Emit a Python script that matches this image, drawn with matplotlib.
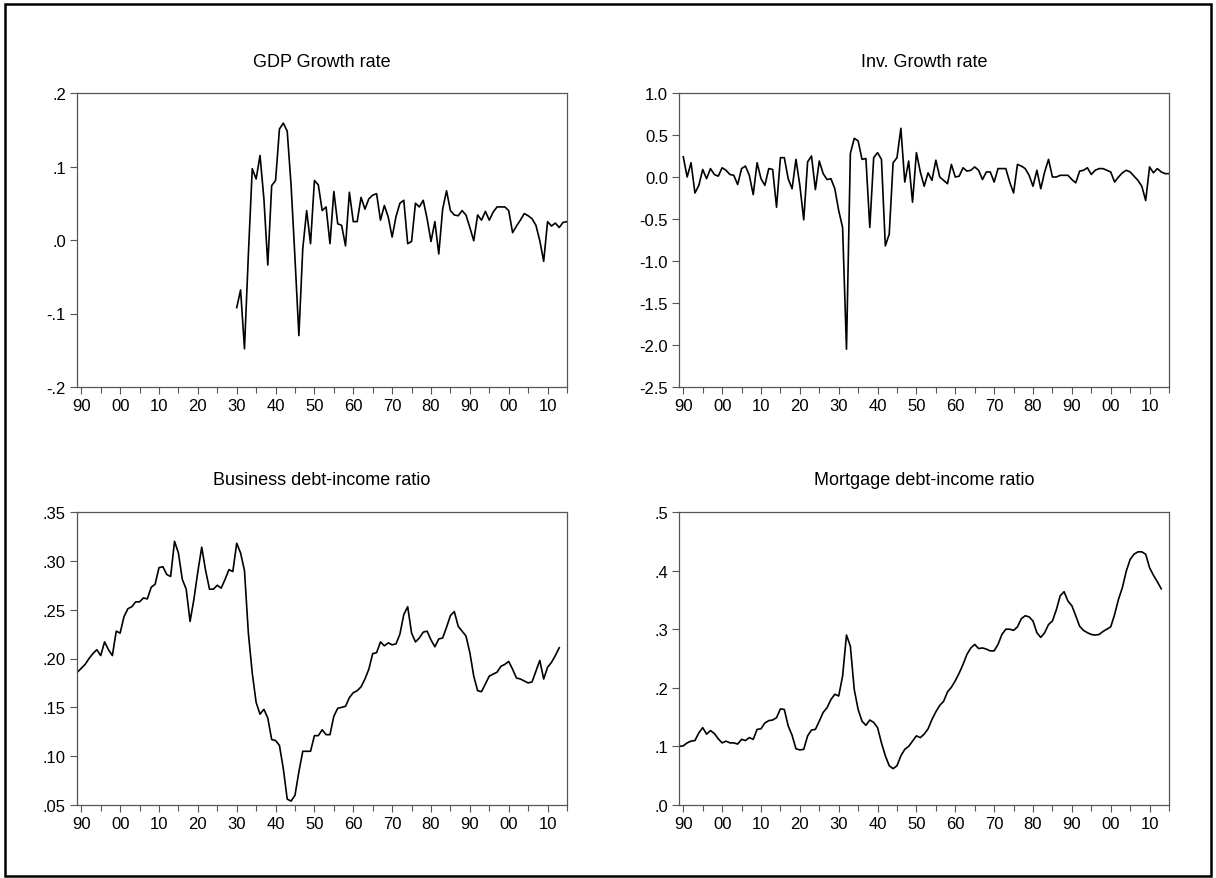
import numpy as np
import matplotlib
matplotlib.use("Agg")
import matplotlib.pyplot as plt
from matplotlib.ticker import FixedLocator, MultipleLocator, FuncFormatter
from matplotlib.patches import Rectangle

plt.rcParams['font.family'] = ['Liberation Sans', 'DejaVu Sans']

# GDP growth rate, 1930-2015
gdp_years = np.arange(1930, 2016)
gdp = [-0.092, -0.068, -0.148, -0.02, 0.097, 0.083, 0.115, 0.056, -0.034, 0.074,
       0.081, 0.151, 0.159, 0.148, 0.074, -0.025, -0.13, -0.012, 0.04, -0.005,
       0.081, 0.075, 0.04, 0.045, -0.005, 0.066, 0.022, 0.02, -0.008, 0.065,
       0.025, 0.025, 0.058, 0.042, 0.056, 0.061, 0.063, 0.027, 0.047, 0.031,
       0.004, 0.032, 0.05, 0.054, -0.005, -0.002, 0.05, 0.045, 0.054, 0.029,
       -0.002, 0.025, -0.019, 0.042, 0.067, 0.04, 0.034, 0.033, 0.04, 0.034,
       0.017, -0.001, 0.034, 0.027, 0.039, 0.027, 0.038, 0.045, 0.045, 0.045,
       0.04, 0.01, 0.019, 0.027, 0.036, 0.033, 0.029, 0.02, -0.001, -0.029,
       0.025, 0.019, 0.023, 0.017, 0.024, 0.025]

# Investment growth rate, 1890-2015
inv_years = np.arange(1890, 2016)
inv = [0.24, 0.0, 0.17, -0.19, -0.1, 0.09, -0.02, 0.1, 0.03, 0.01,
       0.11, 0.08, 0.03, 0.02, -0.09, 0.1, 0.13, 0.02, -0.21, 0.17,
       -0.02, -0.1, 0.1, 0.09, -0.36, 0.23, 0.23, -0.02, -0.14, 0.21,
       -0.1, -0.51, 0.18, 0.25, -0.15, 0.19, 0.04, -0.03, -0.02, -0.14,
       -0.4, -0.6, -2.05, 0.28, 0.46, 0.43, 0.21, 0.22, -0.6, 0.23,
       0.29, 0.21, -0.82, -0.68, 0.17, 0.23, 0.58, -0.06, 0.19, -0.3,
       0.29, 0.06, -0.11, 0.05, -0.04, 0.2, 0.0, -0.04, -0.08, 0.15,
       0.0, 0.01, 0.11, 0.07, 0.08, 0.12, 0.08, -0.03, 0.06, 0.06,
       -0.06, 0.1, 0.1, 0.1, -0.06, -0.19, 0.15, 0.13, 0.1, 0.02,
       -0.11, 0.08, -0.14, 0.06, 0.21, 0.0, 0.0, 0.02, 0.02, 0.02,
       -0.03, -0.07, 0.07, 0.08, 0.11, 0.03, 0.08, 0.1, 0.1, 0.08,
       0.06, -0.06, 0.0, 0.05, 0.08, 0.06, 0.01, -0.04, -0.11, -0.28,
       0.12, 0.05, 0.1, 0.06, 0.04, 0.04]

# Business debt-income ratio, 1889-2013
bus_years = np.arange(1889, 2014)
bus = [0.186, 0.19, 0.194, 0.2, 0.205, 0.209, 0.203, 0.217, 0.209, 0.203,
       0.228, 0.226, 0.243, 0.251, 0.253, 0.258, 0.258, 0.262, 0.261, 0.273,
       0.276, 0.293, 0.294, 0.286, 0.284, 0.32, 0.308, 0.281, 0.271, 0.238,
       0.261, 0.289, 0.314, 0.29, 0.271, 0.271, 0.275, 0.272, 0.281, 0.291,
       0.289, 0.318, 0.308, 0.29, 0.226, 0.185, 0.155, 0.143, 0.148, 0.139,
       0.117, 0.116, 0.111, 0.087, 0.056, 0.054, 0.06, 0.084, 0.105, 0.105,
       0.105, 0.121, 0.121, 0.127, 0.122, 0.122, 0.141, 0.149, 0.15, 0.151,
       0.16, 0.165, 0.167, 0.171, 0.179, 0.189, 0.205, 0.206, 0.217, 0.213,
       0.216, 0.214, 0.215, 0.225, 0.245, 0.253, 0.226, 0.217, 0.221, 0.227,
       0.228, 0.219, 0.212, 0.22, 0.221, 0.232, 0.244, 0.248, 0.233, 0.228,
       0.223, 0.206, 0.182, 0.167, 0.166, 0.174, 0.182, 0.184, 0.186, 0.192,
       0.194, 0.197, 0.189, 0.18, 0.179, 0.177, 0.175, 0.176, 0.187, 0.198,
       0.179, 0.191, 0.196, 0.203, 0.211]

# Mortgage debt-income ratio, 1889-2013
mort_years = np.arange(1889, 2014)
mort = [0.1, 0.101, 0.106, 0.109, 0.11, 0.123, 0.132, 0.121, 0.127, 0.122,
        0.113, 0.106, 0.109, 0.106, 0.106, 0.104, 0.112, 0.11, 0.115, 0.112,
        0.129, 0.13, 0.14, 0.144, 0.145, 0.149, 0.164, 0.163, 0.135, 0.119,
        0.096, 0.094, 0.095, 0.118, 0.128, 0.129, 0.143, 0.158, 0.166, 0.18,
        0.189, 0.186, 0.22, 0.29, 0.271, 0.197, 0.163, 0.143, 0.136, 0.145,
        0.141, 0.132, 0.106, 0.084, 0.067, 0.062, 0.067, 0.084, 0.095, 0.1,
        0.109, 0.118, 0.115, 0.121, 0.13, 0.146, 0.159, 0.17, 0.177, 0.193,
        0.201, 0.212, 0.225, 0.24, 0.257, 0.268, 0.274, 0.267, 0.268, 0.266,
        0.263, 0.263, 0.274, 0.291, 0.3, 0.3, 0.298, 0.304, 0.318, 0.323,
        0.321, 0.314, 0.294, 0.286, 0.294, 0.308, 0.314, 0.333, 0.357, 0.364,
        0.348, 0.34, 0.323, 0.305, 0.298, 0.294, 0.291, 0.29, 0.291, 0.296,
        0.3, 0.304, 0.325, 0.351, 0.371, 0.399, 0.419, 0.428, 0.432, 0.432,
        0.428, 0.405, 0.392, 0.381, 0.369]

panels = [
    ("GDP Growth rate", gdp_years, gdp, [-0.2, -0.1, 0.0, 0.1, 0.2],
     ['-.2', '-.1', '.0', '.1', '.2']),
    ("Inv. Growth rate", inv_years, inv, [-2.5, -2.0, -1.5, -1.0, -0.5, 0.0, 0.5, 1.0],
     ['-2.5', '-2.0', '-1.5', '-1.0', '-0.5', '0.0', '0.5', '1.0']),
    ("Business debt-income ratio", bus_years, bus, [0.05, 0.10, 0.15, 0.20, 0.25, 0.30, 0.35],
     ['.05', '.10', '.15', '.20', '.25', '.30', '.35']),
    ("Mortgage debt-income ratio", mort_years, mort, [0.0, 0.1, 0.2, 0.3, 0.4, 0.5],
     ['.0', '.1', '.2', '.3', '.4', '.5']),
]

W, H = 1216, 879
fig = plt.figure(figsize=(W / 100, H / 100), dpi=100)

# axes boxes in pixels: left, right, top, bottom
lefts = [77, 679]
rights = [567, 1169]
tops = [94, 513]
bottoms = [388, 806]

spine_col = '#555555'
for i, (title, yrs, vals, yt, ylab) in enumerate(panels):
    r, c = divmod(i, 2)
    l, rr = lefts[c], rights[c]
    t, b = tops[r], bottoms[r]
    ax = fig.add_axes([l / W, 1 - b / H, (rr - l) / W, (b - t) / H])
    ax.plot(yrs, vals, color='black', lw=1.2)
    ax.set_xlim(1888.9, 2015)
    ax.set_ylim(yt[0], yt[-1])
    ax.xaxis.set_major_locator(FixedLocator(np.arange(1890, 2016, 10)))
    ax.xaxis.set_minor_locator(FixedLocator(np.arange(1895, 2016, 10)))
    ax.xaxis.set_major_formatter(FuncFormatter(lambda v, p: '%02d' % (int(round(v)) % 100)))
    ax.set_yticks(yt)
    ax.set_yticklabels(ylab)
    ax.tick_params(axis='both', which='major', direction='out', length=5, width=0.8,
                   color=spine_col, labelsize=12, pad=3)
    ax.tick_params(axis='x', which='minor', direction='out', length=4, width=0.8,
                   color=spine_col)
    ax.tick_params(axis='y', labelsize=12)
    for s in ax.spines.values():
        s.set_color(spine_col)
        s.set_linewidth(0.9)
    ax.text(0.5, 1 + 32 / (b - t), title, transform=ax.transAxes, ha='center',
            va='center', fontsize=13)

fig.add_artist(Rectangle((5 / W, 2 / H), (W - 10) / W, (H - 7) / H,
                         transform=fig.transFigure, fill=False,
                         edgecolor='black', lw=1.8))

fig.savefig('out.png', dpi=100)
